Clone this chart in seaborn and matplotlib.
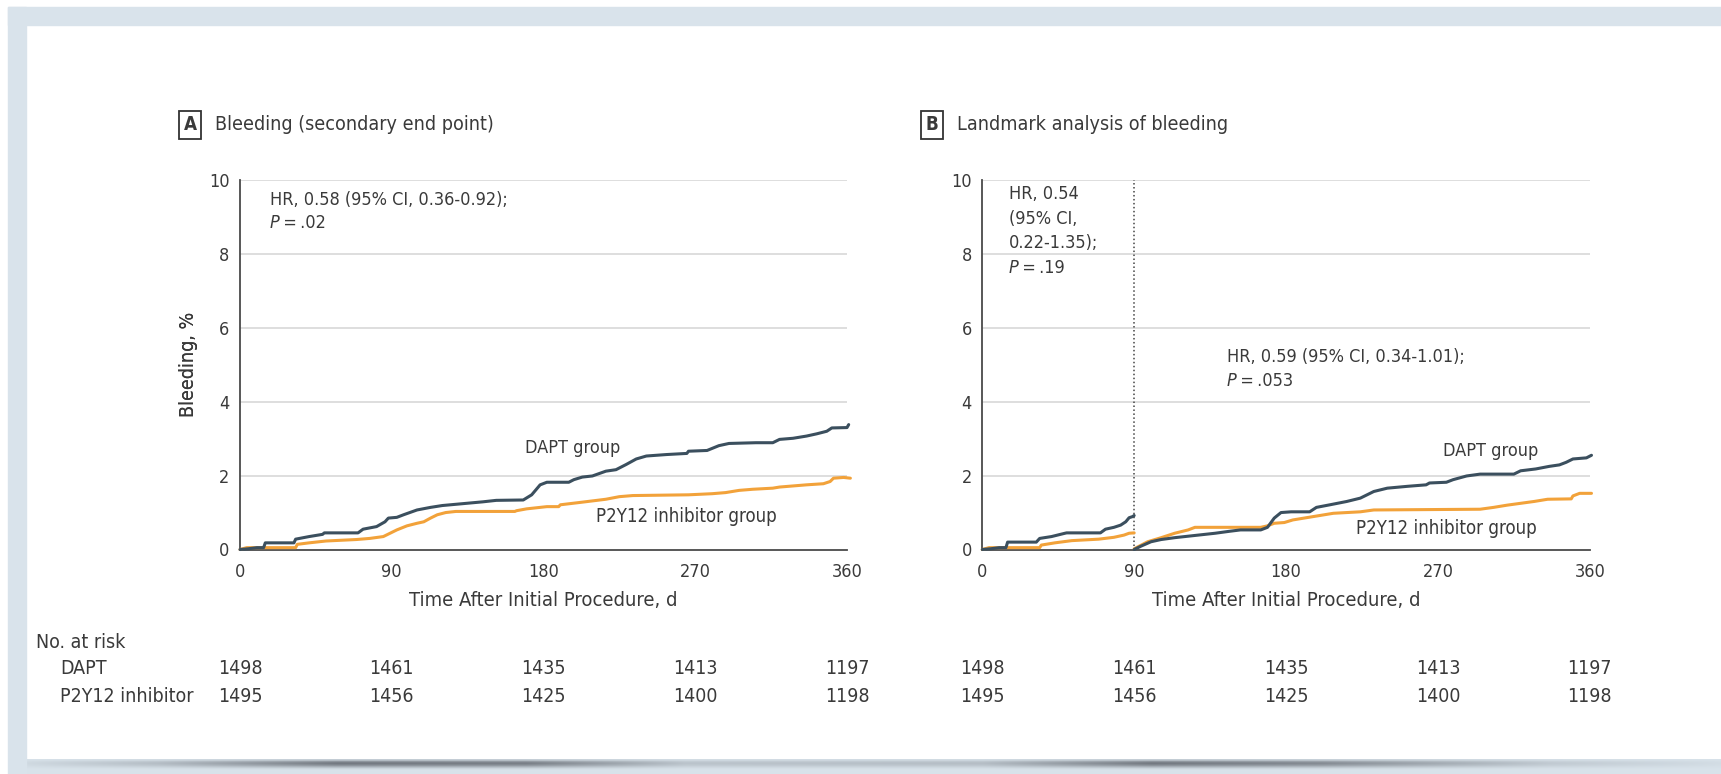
import numpy as np
import pandas as pd
import matplotlib
matplotlib.use("Agg")
import matplotlib.pyplot as plt
import seaborn as sns
from matplotlib.patches import Rectangle
from matplotlib.transforms import blended_transform_factory

# ---------------- data ----------------
time_ticks = [0, 90, 180, 270, 360]
y_ticks = [0, 2, 4, 6, 8, 10]

a_dapt_days = [0, 5, 10, 14, 15, 32, 33, 41, 49, 50, 70, 73, 81, 86, 88, 93, 97, 105, 113, 120, 132,
               144, 152, 168, 173, 178, 182, 195, 198, 203, 209, 217, 223, 229, 235, 241, 253, 265,
               266, 277, 284, 290, 306, 316, 320, 328, 336, 342, 348, 351, 360, 361]
a_dapt_vals = [0, 0.02, 0.05, 0.05, 0.18, 0.18, 0.28, 0.35, 0.41, 0.45, 0.45, 0.55, 0.62, 0.75, 0.85,
               0.87, 0.94, 1.07, 1.14, 1.19, 1.24, 1.29, 1.33, 1.34, 1.48, 1.75, 1.82, 1.82, 1.89,
               1.96, 1.99, 2.12, 2.16, 2.30, 2.45, 2.53, 2.57, 2.60, 2.66, 2.68, 2.81, 2.87, 2.89,
               2.89, 2.98, 3.01, 3.07, 3.13, 3.20, 3.29, 3.30, 3.38]

a_p2y_days = [0, 4, 33, 34, 41, 51, 69, 77, 85, 89, 93, 99, 105, 109, 113, 117, 122, 128, 163, 164,
              170, 182, 189, 190, 201, 217, 225, 233, 266, 280, 288, 296, 304, 316, 320, 328, 336,
              346, 350, 352, 358, 362]
a_p2y_vals = [0, 0.05, 0.05, 0.14, 0.18, 0.23, 0.27, 0.30, 0.35, 0.44, 0.53, 0.64, 0.71, 0.75, 0.85,
              0.94, 1.00, 1.03, 1.03, 1.05, 1.10, 1.16, 1.16, 1.21, 1.27, 1.36, 1.43, 1.46, 1.48,
              1.51, 1.54, 1.60, 1.63, 1.66, 1.69, 1.72, 1.75, 1.78, 1.84, 1.93, 1.95, 1.93]

b1_dapt_days = [0, 5, 10, 14, 15, 32, 34, 41, 49, 50, 70, 73, 78, 82, 85, 87, 89, 90]
b1_dapt_vals = [0, 0.02, 0.05, 0.05, 0.20, 0.20, 0.30, 0.35, 0.44, 0.45, 0.45, 0.55, 0.60, 0.66,
                0.75, 0.86, 0.89, 0.92]
b1_p2y_days = [0, 4, 34, 35, 43, 53, 69, 78, 84, 87, 90]
b1_p2y_vals = [0, 0.05, 0.05, 0.12, 0.18, 0.24, 0.28, 0.33, 0.39, 0.44, 0.45]

b2_dapt_days = [90, 94, 100, 106, 114, 122, 130, 138, 146, 153, 165, 169, 173, 177, 183, 194, 198,
                206, 216, 224, 232, 240, 252, 263, 265, 275, 279, 287, 295, 315, 319, 328, 336,
                342, 346, 350, 358, 361]
b2_dapt_vals = [0.0, 0.09, 0.21, 0.27, 0.32, 0.36, 0.40, 0.44, 0.49, 0.53, 0.53, 0.60, 0.85, 1.00,
                1.02, 1.02, 1.14, 1.21, 1.30, 1.39, 1.57, 1.66, 1.71, 1.75, 1.80, 1.82, 1.89, 1.99,
                2.04, 2.04, 2.13, 2.18, 2.25, 2.29, 2.36, 2.45, 2.48, 2.55]
b2_p2y_days = [90, 98, 106, 114, 122, 126, 165, 169, 173, 179, 184, 196, 208, 224, 232, 295, 303,
               311, 319, 327, 335, 349, 350, 354, 361]
b2_p2y_vals = [0.02, 0.21, 0.32, 0.44, 0.53, 0.60, 0.60, 0.64, 0.71, 0.73, 0.80, 0.89, 0.98, 1.02,
               1.07, 1.09, 1.14, 1.20, 1.25, 1.30, 1.36, 1.37, 1.45, 1.52, 1.52]

risk_dapt = [1498, 1461, 1435, 1413, 1197]
risk_p2y = [1495, 1456, 1425, 1400, 1198]

# ---------------- style ----------------
sns.set_theme(style="white")
FONT = ['Liberation Sans Narrow', 'DejaVu Sans Condensed', 'DejaVu Sans']
plt.rcParams['font.family'] = FONT
plt.rcParams['font.stretch'] = 'condensed'

TXT = '#3a3a3a'
AX = '#4a4a4a'
C_DAPT = '#3b4f5e'
C_P2Y = '#f2a23a'
GRID = '#d4d4d4'
FS = 13
FS_TAB = 14

W, H = 1721, 774
fig = plt.figure(figsize=(W / 100, H / 100), dpi=100)
fig.patch.set_facecolor('white')


def fx(px):
    return px / W


def fy(py):
    return 1 - py / H


# frame bands (screenshot border)
LB = '#d9e3eb'
fig.patches.append(Rectangle((fx(8), 0), fx(18), fy(7),
                             transform=fig.transFigure, color=LB, zorder=0))
fig.patches.append(Rectangle((fx(8), fy(25)), 1 - fx(8), fy(7) - fy(25),
                             transform=fig.transFigure, color=LB, zorder=0))

# bottom shadow gradient
gax = fig.add_axes([fx(8), 0, 1 - fx(8), fy(759)])
xs = np.linspace(0, W, 600)
prof = np.interp(xs, [0, 150, 330, 520, 680, 980, 1150, 1320, 1550, 1721],
                 [0.05, 0.3, 0.85, 0.8, 0.25, 0.3, 0.85, 0.7, 0.2, 0.05])
lb = np.array([0.85, 0.89, 0.92])
dk = np.array([0.38, 0.40, 0.43])
rows = []
for f in [0.1, 0.35, 0.9, 1.0, 0.8, 0.45, 0.15, 0.0, 0.0, 0.0]:
    rows.append(lb[None, :] * (1 - prof[:, None] * f) + dk[None, :] * prof[:, None] * f)
img = np.stack(rows)
gax.imshow(img, aspect='auto', extent=[0, 1, 0, 1], interpolation='bilinear')
gax.axis('off')

# ---------------- panels ----------------
y0_px, y10_px = 549.5, 180.0
panels = [
    dict(x0=240.0, x360=847.0, letter='A', title='Bleeding (secondary end point)'),
    dict(x0=982.3, x360=1589.8, letter='B', title='Landmark analysis of bleeding'),
]
axes = []
for p in panels:
    ax = fig.add_axes([fx(p['x0']), fy(y0_px), fx(p['x360'] - p['x0']), (y0_px - y10_px) / H])
    ax.set_facecolor('none')
    ax.set_xlim(0, 360)
    ax.set_ylim(0, 10)
    for s in ['top', 'right']:
        ax.spines[s].set_visible(False)
    for s in ['left', 'bottom']:
        ax.spines[s].set_color(AX)
        ax.spines[s].set_linewidth(1.3)
    ax.set_xticks(time_ticks)
    ax.set_yticks(y_ticks)
    ax.tick_params(axis='both', direction='out', color=AX, width=1.3, labelcolor=TXT,
                   labelsize=FS)
    ax.tick_params(axis='x', length=7, pad=3)
    ax.tick_params(axis='y', length=6, pad=1.5)
    for yv in y_ticks[1:]:
        ax.axhline(yv, color=GRID, lw=1.1, zorder=0)
    axes.append(ax)

    # title with boxed letter
    fig.text(fx(p['x0'] - 50), fy(125), p['letter'], fontsize=13.5, fontweight='bold', color=TXT,
             ha='center', va='center',
             bbox=dict(boxstyle='square,pad=0.25', facecolor='white', edgecolor='#333333',
                       linewidth=1.3))
    fig.text(fx(p['x0'] - 25), fy(125), p['title'], fontsize=14.1, color=TXT, ha='left',
             va='center')


def draw(ax, days, vals, color):
    df = pd.DataFrame({'day': days, 'pct': vals})
    sns.lineplot(data=df, x='day', y='pct', ax=ax, color=color, lw=2.2, estimator=None,
                 sort=False, clip_on=False, zorder=3)


axA, axB = axes
draw(axA, a_p2y_days, a_p2y_vals, C_P2Y)
draw(axA, a_dapt_days, a_dapt_vals, C_DAPT)
draw(axB, b1_p2y_days, b1_p2y_vals, C_P2Y)
draw(axB, b1_dapt_days, b1_dapt_vals, C_DAPT)
draw(axB, b2_p2y_days, b2_p2y_vals, C_P2Y)
draw(axB, b2_dapt_days, b2_dapt_vals, C_DAPT)
for p, ax in zip(panels, axes):
    ax.set_xlabel('Time After Initial Procedure, d', fontsize=14.5, color=TXT, va='center')
    ax.xaxis.set_label_coords(0.5, (y0_px - 601) / (y0_px - y10_px))
    ax.set_ylabel('Bleeding, %', fontsize=14, color=TXT, va='center')
    ax.yaxis.set_label_coords((189 - p['x0']) / (p['x360'] - p['x0']), 0.5)

axB.axvline(90, ymin=0, ymax=1, color='#444444', lw=1.1, ls=(0, (1, 1.6)), zorder=2)


# annotations
def ptext(px, py, s, fs=FS, **kw):
    return fig.text(fx(px), fy(py), s, fontsize=fs, color=TXT, va='center', **kw)


def ptext_p(px, py, rest):
    t = ptext(px, py, 'P', style='italic')
    fig.axes[1].annotate(rest, xy=(1, 0), xycoords=t, ha='left', va='bottom', fontsize=FS,
                         color=TXT, annotation_clip=False)


ptext(270, 200, 'HR, 0.58 (95% CI, 0.36-0.92);')
ptext_p(270, 223, '\u2009=\u2009.02')
ptext(573, 448, 'DAPT group', ha='center')
ptext(686, 517, 'P2Y12 inhibitor group', fs=13.4, ha='center')

for i, s in enumerate(['HR, 0.54', '(95% CI,', '0.22-1.35);']):
    ptext(1009, 194 + 24.6 * i, s)
ptext_p(1009, 194 + 24.6 * 3, '\u2009=\u2009.19')
ptext(1227, 357, 'HR, 0.59 (95% CI, 0.34-1.01);')
ptext_p(1227, 381, '\u2009=\u2009.053')
ptext(1491, 451, 'DAPT group', ha='center')
ptext(1446, 528, 'P2Y12 inhibitor group', fs=13.4, ha='center')

# number at risk table
ptext(36, 642, 'No. at risk', fs=FS_TAB)
ptext(60, 669, 'DAPT', fs=FS_TAB)
ptext(60, 697, 'P2Y12 inhibitor', fs=FS_TAB)
for ax in axes:
    tr = blended_transform_factory(ax.transData, fig.transFigure)
    for t, a, b in zip(time_ticks, risk_dapt, risk_p2y):
        ax.text(t, fy(669), str(a), transform=tr, fontsize=FS_TAB, color=TXT, ha='center',
                va='center', clip_on=False)
        ax.text(t, fy(697), str(b), transform=tr, fontsize=FS_TAB, color=TXT, ha='center',
                va='center', clip_on=False)

fig.savefig('out.png', dpi=100, facecolor='white')
